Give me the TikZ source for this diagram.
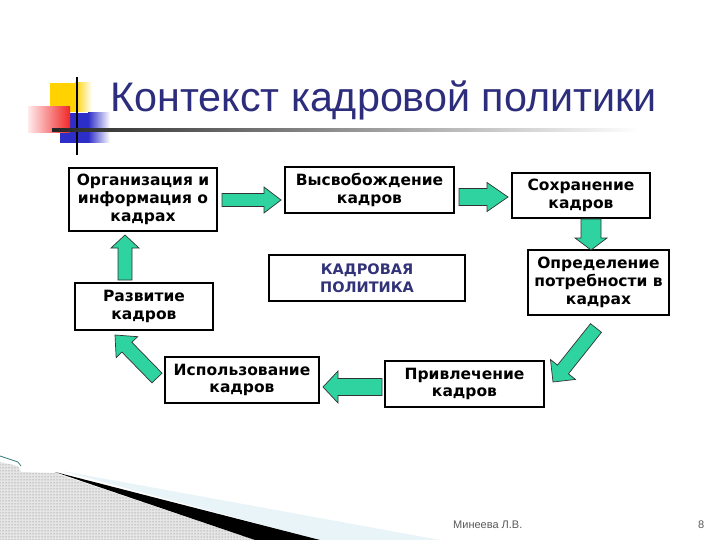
\documentclass[tikz,border=0pt]{standalone}
\usepackage{fontspec}
\setmainfont{DejaVu Sans}
\newfontfamily\titlefont{Liberation Sans}
\usetikzlibrary{calc,patterns}
\definecolor{arrowgreen}{RGB}{46,211,160}
\definecolor{titleblue}{RGB}{45,45,125}
\definecolor{policyblue}{RGB}{50,50,120}
\definecolor{decoyellow}{RGB}{255,210,0}
\definecolor{decored}{RGB}{240,40,40}
\definecolor{decoblue}{RGB}{45,45,200}
\definecolor{lightband}{RGB}{232,244,247}
\tikzset{
  box/.style={draw=black, line width=1.6pt, fill=white, align=center,
    font=\bfseries\fontsize{15.5}{17.8}\selectfont, inner sep=0pt},
  blockarrowstyle/.style={fill=arrowgreen, draw=black!80, line width=0.7pt, line join=miter},
}
\newcommand{\blockarrow}[5]{%
  \coordinate (hb) at ($(#2)!#5!(#1)$);
  \draw[blockarrowstyle] ($(#1)!#3!90:(#2)$) -- ($(hb)!#3!-90:(#1)$) -- ($(hb)!#4!-90:(#1)$) -- (#2) -- ($(hb)!#4!90:(#1)$) -- ($(hb)!#3!90:(#1)$) -- ($(#1)!#3!-90:(#2)$) -- cycle;
}
\begin{document}
\begin{tikzpicture}[x=1pt,y=-1pt]
\useasboundingbox (0,0) rectangle (720,540);
\fill[white] (0,0) rectangle (720,540);
% decoration
\fill[decoyellow] (50,83) rectangle (75,112);
\shade[left color=decoyellow, right color=white] (75,83) rectangle (92,112);
\fill[decoblue] (60,113) rectangle (88,143);
\shade[left color=decoblue, right color=white] (88,113) rectangle (110,143);
\shade[left color=red!8, right color=decored] (28,107) rectangle (70,133);
\draw[line width=1.5pt] (77,77) -- (77,155);
\shade[left color=black!85, right color=white] (52,128.5) rectangle (640,131.5);
% title
\node[anchor=base west, inner sep=0pt, font=\titlefont\fontsize{41.3}{48}\selectfont, text=titleblue] (title) at (110,112) {Контекст кадровой политики};
% boxes
\node[box, minimum width=148pt, minimum height=63pt] (b1) at (143,199.5) {Организация и\\информация о\\кадрах};
\node[box, minimum width=169pt, minimum height=46pt] (b2) at (369.5,190) {Высвобождение\\кадров};
\node[box, minimum width=138pt, minimum height=45pt] (b3) at (581,195.5) {Сохранение\\кадров};
\node[box, minimum width=141pt, minimum height=65pt] (b4) at (598.5,282.5) {Определение\\потребности в\\кадрах};
\node[box, minimum width=159pt, minimum height=46pt] (b5) at (464.5,384) {Привлечение\\кадров};
\node[box, minimum width=154pt, minimum height=46pt] (b6) at (242,380) {Использование\\кадров};
\node[box, minimum width=138pt, minimum height=47pt] (b7) at (144,306.5) {Развитие\\кадров};
\node[box, minimum width=196pt, minimum height=46pt, text=policyblue, font=\bfseries\fontsize{14.5}{18.5}\selectfont] (b8) at (367,278) {КАДРОВАЯ\\ПОЛИТИКА};
% arrow end points
\coordinate (s12) at (222,200); \coordinate (e12) at (281,200);
\coordinate (s23) at (459,197); \coordinate (e23) at (508,197);
\coordinate (s34) at (591,219); \coordinate (e34) at (591,250);
\coordinate (s45) at (596,328); \coordinate (e45) at (553,382);
\coordinate (s56) at (382,387); \coordinate (e56) at (323,387);
\coordinate (s67) at (157,378); \coordinate (e67) at (115,335);
\coordinate (s71) at (125,280); \coordinate (e71) at (125,235);
\blockarrow{s12}{e12}{6.5pt}{13pt}{17pt}
\blockarrow{s23}{e23}{8.5pt}{14.5pt}{21pt}
\blockarrow{s34}{e34}{10pt}{16pt}{12pt}
\blockarrow{s45}{e45}{7pt}{16pt}{16pt}
\blockarrow{s56}{e56}{8.5pt}{16pt}{15pt}
\blockarrow{s67}{e67}{7pt}{15pt}{17pt}
\blockarrow{s71}{e71}{7pt}{14pt}{13pt}
% bottom-left swoosh
\fill[gray!20] (0,462) -- (18,466) -- (21,472) -- (55,473) -- (255,540) -- (0,540) -- cycle;
\fill[pattern=dots, pattern color=gray!90!black] (0,462) -- (18,466) -- (21,472) -- (55,473) -- (255,540) -- (0,540) -- cycle;
\fill[lightband] (62,471) -- (440,540) -- (320,540) -- cycle;
\fill[black] (55,472) -- (320,540) -- (255,540) -- cycle;
\draw[color=teal!50!gray, line width=0.8pt] (0,456) -- (18,462) -- (21,466);
% footer
\node[anchor=base west, inner sep=0pt, font=\titlefont\fontsize{11}{12}\selectfont, text=black!65] (author) at (453,528) {Минеева Л.В.};
\node[anchor=base west, inner sep=0pt, font=\titlefont\fontsize{11}{12}\selectfont, text=black!65] (page) at (698,528) {8};
\end{tikzpicture}
\end{document}
